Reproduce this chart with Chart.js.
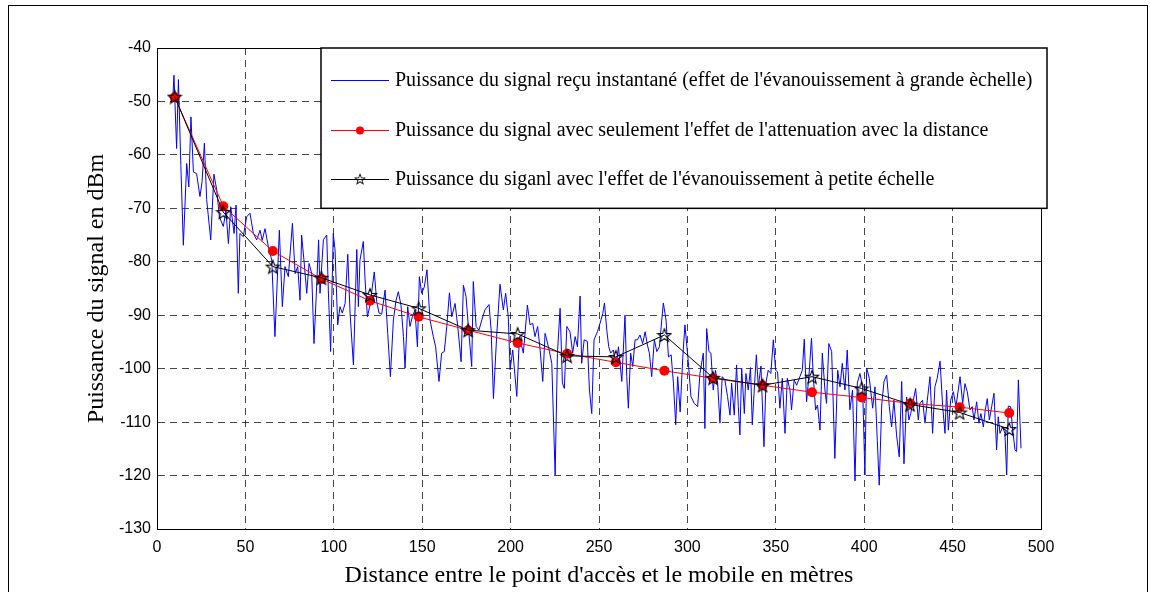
<!DOCTYPE html>
<html>
<head>
<meta charset="utf-8">
<script src="https://cdn.jsdelivr.net/npm/chart.js@4.4.1/dist/chart.umd.min.js"></script>
<style>
html, body { margin: 0; padding: 0; background: #fff; }
#wrap { position: relative; width: 1150px; height: 592px; overflow: hidden; }
#frame { position: absolute; left: 8px; top: 5px; width: 1140px; height: 640px; border: 1px solid #000; box-sizing: border-box; }
#chart { position: absolute; left: 0; top: 0; }
</style>
</head>
<body>
<div id="wrap">
  <div id="frame"></div>
  <canvas id="chart" width="1150" height="592"></canvas>
</div>
<script>
// distances (m) of the sampled positions
const distPts = [10, 37.5, 65.5, 93, 120.5, 148, 176, 204, 232, 259.5, 287, 314.5, 342.5, 370.5, 398.5, 426, 454, 482];
// path loss only
const attenuation = [-49.2, -69.6, -78.0, -83.2, -87.3, -90.3, -92.8, -95.2, -97.2, -98.8, -100.4, -101.8, -103.1, -104.4, -105.4, -106.5, -107.2, -108.3];
// with small scale fading
const smallScale = [-49.1, -70.7, -80.9, -83.0, -86.2, -88.7, -92.8, -93.5, -97.6, -97.8, -93.7, -101.7, -103.1, -101.5, -103.7, -106.7, -108.2, -111.3];

// instantaneous received power
const instDist = [
  9, 9.6, 11.1, 12.1, 13.5, 14.9, 16.8, 18, 19.2, 20.6, 22.4, 24.3, 25.5, 26.8, 28.1, 30.4, 32.2, 33.8, 35.3, 37.5,
  39, 40.4, 41.7, 43.6, 44.7, 46.0, 46.9, 48.8, 50.7, 52.6, 54.5, 56.4, 58.3, 59.5, 61.1, 63.0, 64.9, 66.7, 69.2, 70.9,
  72.4, 74.3, 76.6, 78.1, 79.6, 80.9, 81.8, 83.2, 84.7, 86.0, 87.5, 88.8, 90.3, 91.4, 92.2, 94.1, 96.0, 96.9, 98.2, 99.7,
  100.7, 102.2, 103.5, 104.8, 106.4, 107.9, 109.2, 111.1, 113.0, 113.9, 114.8, 116.7, 117.7, 119.0, 120.5, 121.8, 122.9, 124.3, 125.6, 127.1,
  129.0, 130.5, 132.0, 133.7, 135.2, 136.5, 138.0, 139.4, 140.3, 141.8, 143.1, 144.4, 145.9, 147.3, 148.4, 149.7, 151.2, 152.7, 154.4, 156.3,
  157.6, 159.5, 161.0, 162.5, 163.9, 165.4, 166.7, 168.6, 170.1, 172.0, 173.3, 174.8, 176.1, 178.0, 178.9, 180.5, 182.1, 183.7, 185.5, 187.8,
  189.0, 190.3, 192.1, 194.0, 195.9, 197.2, 198.7,
  199.7, 201.2, 203.5, 205.0, 207.2, 209.5, 211.0, 212.5, 213.8, 215.3, 216.7, 218.2, 219.5, 221.4, 223.3, 225.2, 226.5, 228.0, 229.3, 230.4,
  231.8, 233.6, 235.1, 236.5, 237.8, 239.3, 240.2, 241.6, 243.4, 244.6, 245.9, 247.2, 249.1, 250.6, 252.1, 253.1, 254.4, 255.5, 256.6, 258.1,
  259.7, 261.0, 262.9, 264.7, 265.7, 266.6, 267.9, 269.1, 270.4, 271.7, 273.2, 274.7, 276.1, 277.4, 278.5, 279.8, 281.3, 282.7, 284.2, 285.5,
  286.4, 287.9, 289.3, 290.8, 292.1, 293.4, 294.5, 295.9, 297.4,
  298.6, 300.5, 302.0, 303.9, 305.8, 307.1, 309.0, 309.9, 310.9, 312.2, 313.3, 314.6, 315.9, 317.1, 318.4, 319.7, 321.2, 322.7, 324.1, 325.0,
  326.5, 327.8, 328.8, 329.7, 330.7, 332.2, 333.1, 334.4, 335.7, 336.7, 337.8, 339.0, 340.1, 341.6, 343.3, 344.4, 345.7, 347.2, 348.6, 349.9,
  351.0, 352.3, 353.7, 355.2, 356.5, 358.0, 358.9, 360.4, 361.8, 363.6, 365.0, 366.1, 367.4, 368.7, 370.2, 371.2, 372.5, 373.6, 375.0, 376.3,
  377.8, 378.7, 380.0, 381.6, 383.4, 385.0, 386.3, 387.6, 389.1, 390.4, 391.9, 393.4, 394.8, 396.1,
  397.6, 399.1, 400.4, 401.4, 402.9, 404.8, 406.1, 407.4, 408.5, 409.9, 411.2, 412.7, 414.2, 415.5, 416.8, 418.3, 419.8, 421.2, 422.5, 424.0,
  425.3, 426.3, 427.8, 429.1, 430.6, 431.5, 433.0, 434.4, 435.7, 437.2, 438.7, 440.0, 441.3, 442.9, 444.4, 445.7, 446.6, 447.6, 448.9, 450.4,
  451.9, 453.2, 454.2, 455.7, 457.0, 458.3, 459.8, 461.1, 462.1, 463.6, 464.9, 466.0, 467.4, 468.5, 469.6, 470.8, 472.1, 473.4, 474.9, 475.8,
  476.8, 478.3, 479.6, 480.6, 481.5, 482.8, 484.0, 485.3, 486.2, 487.2, 488.7
];
const instPower = [
  -49, -45.1, -58.8, -45.9, -62, -76.9, -61.6, -66, -52.9, -63.2, -63.5, -67.8, -65, -57.8, -68.4, -75.9, -63.6, -66.6, -71.6, -73.4,
  -70.5, -76.6, -69.7, -74.7, -69.4, -85.9, -74.7, -75.3, -71.6, -70.9, -74.7, -75.9, -74.1, -76, -73.8, -77.2, -79.7, -94.0, -74.1, -88.4,
  -80.9, -82.8, -72.8, -82.2, -80.9, -87.2, -75.0, -80, -85.9, -80.3, -82.2, -95.3, -84.7, -75.9, -85.9, -75.9, -75.0, -85.3, -96.8, -74.7,
  -77.8, -91.8, -88.4, -89.6, -87.8, -78.6, -89.6, -99.3, -77.7, -88.4, -79.7, -76.2, -83.4, -90.3, -88.1, -84.7, -81.9, -87.5, -89.6, -89.8,
  -85.3, -93.4, -101.5, -90.9, -87.2, -85.6, -88.1, -94.0, -99.9, -88.4, -92.1, -90.3, -89.0, -95.9, -82.8, -85.9, -84.7, -81.5, -90.9, -94.0,
  -95.9, -102.4, -97.1, -96.8, -92.1, -85.8, -90.3, -87.8, -92.1, -98.7, -84.4, -86.5, -92.1, -99.6, -83.7, -92.1, -92.8, -90.9, -89.0, -88.0,
  -92.8, -105.6, -94.0, -84.2, -89.0, -85.9, -90.3,
  -100.2, -96.5, -105.2, -94.0, -97.1, -88.1, -91.8, -91.5, -94.0, -92.1, -96.5, -102.4, -93.4, -95.9, -99.0, -119.9, -97.1, -88.7, -102.7, -103.7,
  -92.1, -93.1, -97.1, -94.0, -95.9, -86.4, -99.0, -94.6, -94.9, -104.0, -108.4, -94.6, -93.1, -91.5, -89.7, -87.7, -92.8, -95.9, -97.1, -96.5,
  -99.6, -95.9, -102.4, -90.0, -101.5, -107.4, -97.1, -99.6, -94.6, -94.6, -93.7, -95.3, -93.1, -95.6, -97.1, -101.5, -94.6, -96.8, -95.9, -90.9,
  -87.7, -90.9, -97.8, -97.4, -102.7, -110.5, -101.5, -108.1, -97.8,
  -91.8, -98.7, -105.2, -106.5, -107.1, -100.9, -97.1, -111.2, -92.5, -96.8, -97.1, -104.0, -100.3, -102.7, -110.2, -101.5, -102.1, -105.2, -108.7, -102.7,
  -108.7, -99.3, -107.1, -112.4, -99.9, -108.4, -100.9, -104.0, -99.8, -110.5, -104.0, -97.4, -103.4, -99.5, -114.6, -102.7, -100.3, -100.9, -94.6, -100.3,
  -100.6, -107.4, -101.8, -112.1, -101.8, -104.0, -107.7, -102.1, -103.1, -101.5, -100.3, -94.5, -106.2, -101.5, -94.3, -101.5, -107.7, -106.8, -111.5, -97.1,
  -104.0, -106.5, -95.3, -96.8, -116.8, -100.3, -103.4, -99.0, -104.0, -96.5, -107.7, -104.0, -121.0, -102.7,
  -100.9, -103.4, -119.9, -99.9, -101.8, -107.4, -103.4, -113.4, -121.8, -106.8, -102.4, -101.2, -107.1, -110.9, -105.9, -112.4, -116.5, -102.4, -117.8, -105.3,
  -109.6, -108.4, -105.9, -103.7, -109.6, -106.5, -105.9, -110.2, -105.9, -101.5, -112.1, -103.4, -101.8, -98.6, -107.1, -112.1, -104.0, -111.5, -105.9, -104.3,
  -107.1, -104.0, -101.5, -106.5, -102.8, -104.3, -107.7, -107.1, -109.6, -106.2, -110.2, -108.4, -110.9, -107.7, -105.6, -109.6, -107.1, -104.6, -115.2, -109.0,
  -112.1, -110.9, -112.1, -119.9, -107.0, -107.1, -111.5, -115.2, -115.5, -102.1, -114.9
];

const xTicks = [0, 50, 100, 150, 200, 250, 300, 350, 400, 450, 500];
const yTicks = [-130, -120, -110, -100, -90, -80, -70, -60, -50, -40];

const legendLabels = [
  "Puissance du signal reçu instantané (effet de l'évanouissement à grande èchelle)",
  "Puissance du signal avec seulement l'effet de l'attenuation avec la distance",
  "Puissance du siganl avec l'effet de l'évanouissement à petite échelle"
];

const serif = '"Liberation Serif", "Times New Roman", serif';
const sans = '"Liberation Sans", Arial, sans-serif';

// hollow pentagram marker like matlab 'p'
function makeStar(size) {
  const c = document.createElement('canvas');
  c.width = size; c.height = size;
  const g = c.getContext('2d');
  const cx = size / 2, cy = size / 2 + 0.8, R = size / 2 - 1, r = R * 0.42;
  g.beginPath();
  for (let i = 0; i < 10; i++) {
    const a = -Math.PI / 2 + i * Math.PI / 5;
    const rad = i % 2 ? r : R;
    g.lineTo(cx + rad * Math.cos(a), cy + rad * Math.sin(a));
  }
  g.closePath();
  g.strokeStyle = '#000';
  g.lineWidth = 1.1;
  g.stroke();
  return c;
}
const star = makeStar(16);

const toPts = (xs, ys) => xs.map((x, i) => ({x: x, y: ys[i]}));

// plot box + legend drawn inside the axes
const boxAndLegend = {
  id: 'boxAndLegend',
  afterDraw(chart) {
    const ctx = chart.ctx;
    const a = chart.chartArea;
    ctx.save();
    ctx.setLineDash([]);
    ctx.strokeStyle = '#000';
    ctx.lineWidth = 1;
    ctx.strokeRect(a.left + 0.5, a.top + 0.5, a.right - a.left, a.bottom - a.top);

    const yS = chart.scales.y;
    const lx = a.left + 164, ly = a.top, lw = a.right - a.left - 158, lh = yS.getPixelForValue(-70) - a.top;
    ctx.fillStyle = '#fff';
    ctx.fillRect(lx, ly, lw, lh);
    ctx.lineWidth = 1.5;
    ctx.strokeRect(lx, ly, lw, lh);

    const rows = [ly + 32, ly + 82, ly + 131];
    const colors = ['#0000ff', '#ff0000', '#000000'];
    ctx.font = '20px ' + serif;
    ctx.textBaseline = 'middle';
    rows.forEach((ry, i) => {
      ctx.strokeStyle = colors[i];
      ctx.lineWidth = 1;
      ctx.beginPath();
      ctx.moveTo(lx + 10, ry + 0.5);
      ctx.lineTo(lx + 68, ry + 0.5);
      ctx.stroke();
      const mx = lx + 39;
      if (i === 1) {
        ctx.fillStyle = '#ff0000';
        ctx.beginPath();
        ctx.arc(mx, ry + 0.5, 4, 0, Math.PI * 2);
        ctx.fill();
      } else if (i === 2) {
        ctx.drawImage(star, mx - 6, ry - 6, 12, 12);
      }
      ctx.fillStyle = '#000';
      ctx.fillText(legendLabels[i], lx + 74, ry + 1);
    });
    ctx.restore();
  }
};

new Chart(document.getElementById('chart'), {
  type: 'line',
  data: {
    datasets: [
      {
        label: legendLabels[0],
        data: toPts(instDist, instPower),
        borderColor: '#0000ff',
        borderWidth: 1,
        pointRadius: 0,
        order: 3
      },
      {
        label: legendLabels[1],
        data: toPts(distPts, attenuation),
        borderColor: '#ff0000',
        backgroundColor: '#ff0000',
        borderWidth: 1,
        pointRadius: 5,
        pointBorderWidth: 0,
        order: 2
      },
      {
        label: legendLabels[2],
        data: toPts(distPts, smallScale),
        borderColor: '#000000',
        borderWidth: 1,
        pointStyle: star,
        order: 1
      }
    ]
  },
  options: {
    responsive: false,
    animation: false,
    layout: { padding: { left: 0, top: 48, right: 109, bottom: 0 } },
    plugins: {
      legend: { display: false },
      tooltip: { enabled: false }
    },
    scales: {
      x: {
        type: 'linear',
        min: 0,
        max: 500,
        afterBuildTicks: s => { s.ticks = xTicks.map(v => ({value: v})); },
        afterFit: s => { s.height = 63; },
        ticks: { color: '#000', font: { family: sans, size: 16 }, padding: 9, maxRotation: 0 },
        grid: { color: 'rgba(0,0,0,0.72)', lineWidth: 1, drawTicks: false },
        border: { color: '#000', dash: [7, 5] },
        title: {
          display: true,
          text: "Distance entre le point d'accès et le mobile en mètres",
          color: '#000',
          font: { family: serif, size: 24 },
          padding: { top: 0, bottom: 2 }
        }
      },
      y: {
        min: -130,
        max: -40,
        afterBuildTicks: s => { s.ticks = yTicks.map(v => ({value: v})); },
        afterFit: s => { s.width = 157; },
        ticks: { color: '#000', font: { family: sans, size: 16 }, padding: 6 },
        grid: { color: 'rgba(0,0,0,0.72)', lineWidth: 1, drawTicks: false },
        border: { color: '#000', dash: [7, 5] },
        title: {
          display: true,
          text: 'Puissance du signal en dBm',
          color: '#000',
          font: { family: serif, size: 24 },
          padding: { top: 82, bottom: 0 }
        }
      }
    }
  },
  plugins: [boxAndLegend]
});
</script>
</body>
</html>
